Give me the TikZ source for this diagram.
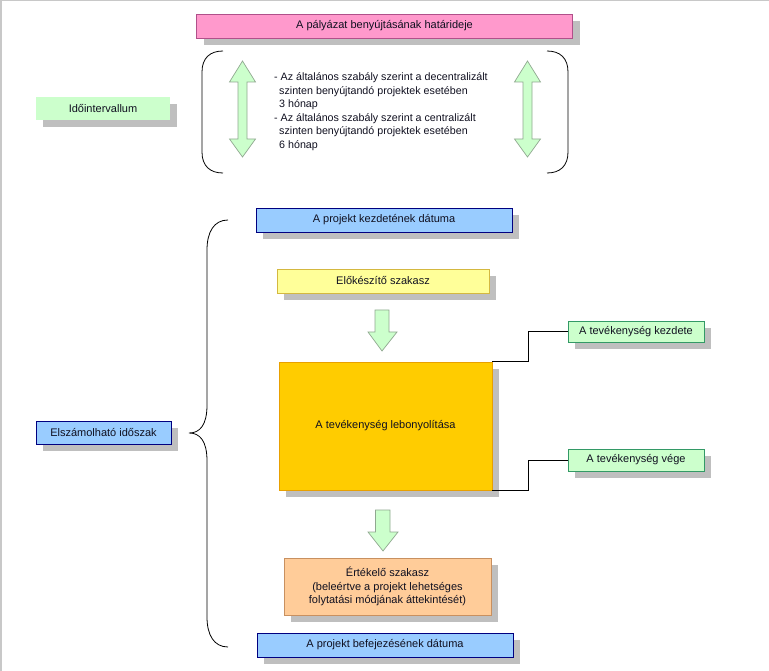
\documentclass[tikz,border=0pt]{standalone}
\usepackage{fontspec}
\setmainfont{Liberation Sans}
\usetikzlibrary{shadows,calc}
\definecolor{pinkfill}{HTML}{FF99CC}
\definecolor{pinkdraw}{HTML}{B0508A}
\definecolor{bluefill}{HTML}{99CCFF}
\definecolor{bluedraw}{HTML}{000080}
\definecolor{greenfill}{HTML}{CCFFCC}
\definecolor{greendraw}{HTML}{339966}
\definecolor{yellowfill}{HTML}{FFFF99}
\definecolor{yellowdraw}{HTML}{D4B840}
\definecolor{orangefill}{HTML}{FFCC00}
\definecolor{orangedraw}{HTML}{E8A000}
\definecolor{peachfill}{HTML}{FFCC99}
\definecolor{peachdraw}{HTML}{C89060}
\definecolor{shadowgray}{HTML}{BFBFBF}
\definecolor{arrowdraw}{HTML}{90A890}
\definecolor{framegray}{HTML}{C8C8C8}
\definecolor{textdark}{HTML}{101020}
\tikzset{
  box/.style={rectangle, inner sep=0pt, font=\fontsize{11}{13.5}\selectfont, align=center, text=textdark,
    drop shadow={shadow xshift=7pt, shadow yshift=-7pt, fill=shadowgray, opacity=1}},
  pinkbox/.style={box, fill=pinkfill, draw=pinkdraw, line width=0.8pt},
  bluebox/.style={box, fill=bluefill, draw=bluedraw, line width=0.9pt},
  greenbox/.style={box, fill=greenfill, draw=greendraw, line width=0.7pt},
  greenplain/.style={box, fill=greenfill},
  yellowbox/.style={box, fill=yellowfill, draw=yellowdraw, line width=0.8pt},
  orangebox/.style={box, fill=orangefill, draw=orangedraw, line width=0.8pt},
  peachbox/.style={box, fill=peachfill, draw=peachdraw, line width=0.8pt},
  fatarrow/.style={fill=greenfill, draw=arrowdraw, line width=0.7pt, line join=miter},
  bracket/.style={draw=black, line width=0.8pt},
  connector/.style={draw=black, line width=0.9pt},
}
\begin{document}
\begin{tikzpicture}[x=1pt, y=-1pt]
\useasboundingbox (0,0) rectangle (769,671);
\fill[white] (0,0) rectangle (769,671);
% frame lines
\draw[framegray, line width=1.8pt] (1,0) -- (1,671);
\draw[framegray, line width=1.2pt] (0,0.6) -- (769,0.6);

% top part
\node[pinkbox, minimum width=376pt, minimum height=24pt] (deadline) at (384.5,26) {A pályázat benyújtásának határideje};
\node[greenplain, minimum width=134pt, minimum height=23pt] (ido) at (103,109) {Időintervallum};

\draw[bracket] (223,51) .. controls (210,51) and (202,58) .. (202,72) -- (202,152) .. controls (202,166) and (210,173) .. (223,173);
\draw[bracket] (547,51) .. controls (560,51) and (568,58) .. (568,72) -- (568,152) .. controls (568,166) and (560,173) .. (547,173);

\draw[fatarrow] (242.5,61) -- (255.5,82) -- (247,82) -- (247,139) -- (255.5,139) -- (242.5,157) -- (229.5,139) -- (238,139) -- (238,82) -- (229.5,82) -- cycle;
\draw[fatarrow] (527.5,61) -- (540.5,82) -- (532,82) -- (532,139) -- (540.5,139) -- (527.5,157) -- (514.5,139) -- (523,139) -- (523,82) -- (514.5,82) -- cycle;

\node[anchor=north west, inner sep=0pt, align=left, text=textdark, font=\fontsize{10.7}{13.5}\selectfont] (info) at (274,72.5)
{- Az általános szabály szerint a decentralizált\\
\hspace*{5pt}szinten benyújtandó projektek esetében\\
\hspace*{5pt}3 hónap\\
- Az általános szabály szerint a centralizált\\
\hspace*{5pt}szinten benyújtandó projektek esetében\\
\hspace*{5pt}6 hónap};

% lower part
\node[bluebox, minimum width=256pt, minimum height=24pt] (start) at (384,220) {A projekt kezdetének dátuma};
\node[yellowbox, minimum width=212pt, minimum height=24pt] (prep) at (383,281) {Előkészítő szakasz};
\node[orangebox, minimum width=213pt, minimum height=128pt] (act) at (385.5,426) {A tevékenység lebonyolítása};
\node[greenbox, minimum width=136pt, minimum height=21pt] (actstart) at (636,331.5) {A tevékenység kezdete};
\node[greenbox, minimum width=136pt, minimum height=22pt] (actend) at (636,460) {A tevékenység vége};
\node[peachbox, minimum width=207pt, minimum height=57pt] (eval) at (387.5,586.5) {Értékelő szakasz\\(beleértve a projekt lehetséges\\folytatási módjának áttekintését)};
\node[bluebox, minimum width=256pt, minimum height=24pt] (end) at (385,645) {A projekt befejezésének dátuma};
\node[bluebox, minimum width=135pt, minimum height=23pt] (period) at (103.5,432.5) {Elszámolható időszak};

% down arrows
\draw[fatarrow] (375,310) -- (389,310) -- (389,332) -- (397,332) -- (382,351) -- (368,332) -- (375,332) -- cycle;
\draw[fatarrow] (375.5,510) -- (390,510) -- (390,532) -- (398,532) -- (383,551) -- (368,532) -- (375.5,532) -- cycle;

% connectors
\draw[connector] (act.north east) -- ($(act.north east)+(36,0)$) |- (actstart.west);
\draw[connector] (act.south east) -- ($(act.south east)+(36,0)$) |- (actend.west);

% big brace
\draw[bracket] (228,220) .. controls (214,220) and (207,232) .. (207,250) -- (207,405) .. controls (207,425) and (200,433) .. (189,433) .. controls (200,433) and (207,441) .. (207,461) -- (207,617) .. controls (207,635) and (214,647) .. (228,647);
\end{tikzpicture}
\end{document}
